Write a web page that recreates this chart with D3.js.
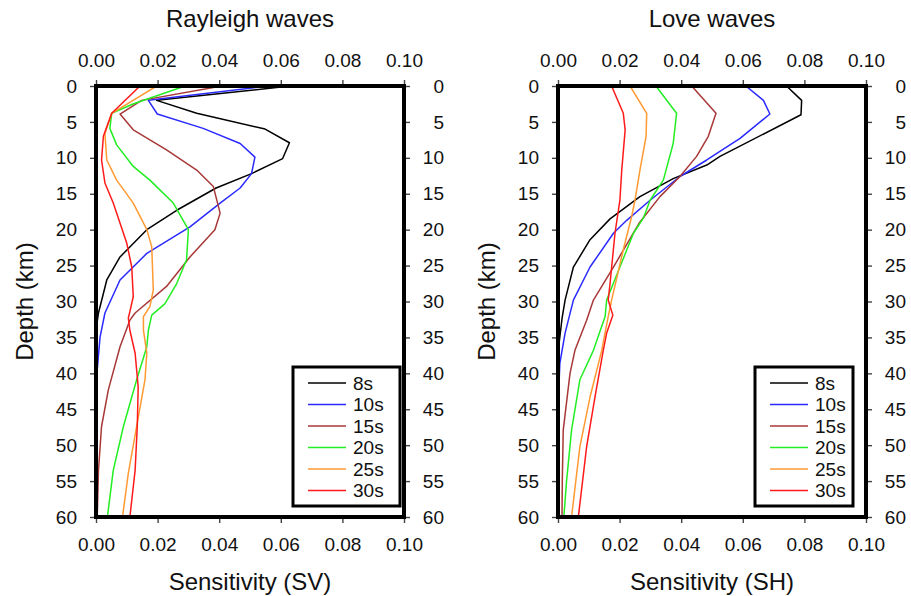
<!DOCTYPE html>
<html><head><meta charset="utf-8">
<script src="https://cdn.jsdelivr.net/npm/d3@7"></script>
<style>body{margin:0;background:#fff}svg{display:block;font-family:"Liberation Sans",Arial,sans-serif}</style>
</head><body><svg id="c" width="911" height="596"></svg>
<script>
// ---- data: [sensitivity, depth km] ----
const periods = ["8s","10s","15s","20s","25s","30s"];
const colors = ["#000000","#2a2aff","#a83838","#22ee22","#ff9a33","#ff1a1a"];
const xTicks = [0.00,0.02,0.04,0.06,0.08,0.10];
const yTicks = [0,5,10,15,20,25,30,35,40,45,50,55,60];

const rayleigh8  = [[0.063,0],[0.0197,2],[0.0327,3.8],[0.0549,6],[0.0628,7.9],[0.0606,10.1],[0.0505,12.2],[0.039,14.2],[0.0262,17.3],[0.0165,20],[0.0078,23.8],[0.0035,27],[0.0008,31.6],[0,34],[0,60]];
const rayleigh10 = [[0.0559,0],[0.017,2],[0.0199,3.9],[0.0348,5.9],[0.0468,8],[0.0516,9.9],[0.0505,12.2],[0.0468,14.2],[0.0403,16.3],[0.0305,19.6],[0.0165,23.3],[0.0078,27],[0.0029,31.6],[0.0013,35],[0.0003,40],[0,43],[0,60]];
const rayleigh15 = [[0.0408,0],[0.0148,2],[0.0078,3.9],[0.0121,6.1],[0.0229,8.9],[0.0327,11.7],[0.0381,14],[0.0403,17.7],[0.0386,20],[0.0305,23.8],[0.0229,27.9],[0.0127,31.6],[0.011,32.6],[0.0078,36.3],[0.004,42.3],[0.0018,47.4],[0.0008,53.5],[0.0004,60]];
const rayleigh20 = [[0.0289,0],[0.012,2.5],[0.0051,3.8],[0.0045,5.9],[0.0067,8.2],[0.0121,11.2],[0.0175,13.1],[0.0251,16.3],[0.03,20],[0.0294,24.2],[0.0262,27.5],[0.0224,30.3],[0.0181,31.9],[0.017,34],[0.0165,36.3],[0.0132,40.9],[0.0089,47.4],[0.0056,53.5],[0.0037,60]];
const rayleigh25 = [[0.0197,0],[0.0051,3.8],[0.0029,6.6],[0.0035,10.3],[0.0067,13.1],[0.0121,16.3],[0.0165,20],[0.0181,22.4],[0.0186,28.4],[0.0175,30.7],[0.0154,32.1],[0.0154,34],[0.0165,37.2],[0.0159,40.9],[0.0132,47.4],[0.0105,53.9],[0.0086,60]];
const rayleigh30 = [[0.0143,0],[0.0051,3.8],[0.0024,7],[0.0018,10.3],[0.0029,13.5],[0.0056,16.3],[0.01,21.9],[0.0116,25.2],[0.0121,29.3],[0.011,31.4],[0.0105,32.3],[0.011,34],[0.0127,37.2],[0.0137,41.9],[0.0134,47.4],[0.0127,53.5],[0.011,60]];

const love8  = [[0.0742,0],[0.0791,2],[0.0789,4],[0.0526,9.8],[0.0483,11],[0.0374,12.9],[0.0266,15.4],[0.0169,18.5],[0.0104,21.4],[0.005,25.2],[0.0023,29.8],[0.0013,32.4],[0.0003,36],[0,40],[0,60]];
const love10 = [[0.061,0],[0.0667,2],[0.0688,3.9],[0.0591,7.3],[0.0483,10.3],[0.0396,12.6],[0.0299,15.9],[0.0223,18.7],[0.018,20.5],[0.0104,25.2],[0.005,29.8],[0.0023,34.4],[0.0006,38.6],[0.0001,44],[0,60]];
const love15 = [[0.0434,0],[0.0513,3.8],[0.0488,7],[0.045,9.8],[0.0396,12.6],[0.0331,15.4],[0.0265,19],[0.018,25.2],[0.0115,29.8],[0.0093,32.6],[0.0055,36.8],[0.0039,40],[0.0017,47.9],[0.0014,54.9],[0.0013,60]];
const love20 = [[0.0318,0],[0.0385,3.8],[0.0374,8],[0.0342,13.1],[0.0299,15.9],[0.0277,18.4],[0.0245,20.5],[0.0201,25.2],[0.0158,29.8],[0.0153,32.1],[0.0115,36.8],[0.0071,40.9],[0.0044,47.9],[0.0028,54.9],[0.0019,60]];
const love25 = [[0.0234,0],[0.0288,3.8],[0.0286,7],[0.0266,11.7],[0.025,15.9],[0.0239,18.2],[0.0212,22.8],[0.0174,29.8],[0.0163,32.1],[0.0142,36.8],[0.0104,43.3],[0.0071,50.2],[0.0044,60]];
const love30 = [[0.0174,0],[0.0212,3.8],[0.0218,6.1],[0.0207,11.7],[0.0201,15.9],[0.0193,18.2],[0.0185,20.5],[0.0169,27.5],[0.0163,29.8],[0.0178,31.9],[0.0158,34.4],[0.0147,36.8],[0.012,43.3],[0.0093,50.2],[0.0066,60]];

const panels = [
  {title:"Rayleigh waves", xlabel:"Sensitivity (SV)", x0:96, series:[rayleigh8,rayleigh10,rayleigh15,rayleigh20,rayleigh25,rayleigh30], leg:{x:293,w:107}},
  {title:"Love waves", xlabel:"Sensitivity (SH)", x0:558, series:[love8,love10,love15,love20,love25,love30], leg:{x:755,w:98}}
];

const svg = d3.select("#c");
const W = 308, yTop = 86, yBot = 517;
const fmtX = d3.format(".2f");

panels.forEach(p => {
  const x = d3.scaleLinear().domain([0,0.1]).range([p.x0, p.x0+W]);
  const y = d3.scaleLinear().domain([0,60]).range([yTop, yBot]);
  const g = svg.append("g");

  const tickStyle = sel => {
    sel.select(".domain").remove();
    sel.selectAll(".tick line").attr("stroke","#444").attr("stroke-width",1.4);
    sel.selectAll(".tick text").attr("fill","#111").style("font-size","19px").style("font-family","'Liberation Sans',Arial,sans-serif");
  };
  g.append("g").attr("transform",`translate(0,${yTop})`)
    .call(d3.axisTop(x).tickValues(xTicks).tickFormat(fmtX).tickSize(6).tickPadding(13)).call(tickStyle);
  g.append("g").attr("transform",`translate(0,${yBot})`)
    .call(d3.axisBottom(x).tickValues(xTicks).tickFormat(fmtX).tickSize(6).tickPadding(15)).call(tickStyle);
  g.append("g").attr("transform",`translate(${p.x0},0)`)
    .call(d3.axisLeft(y).tickValues(yTicks).tickSize(6).tickPadding(13)).call(tickStyle);
  const ra = g.append("g").attr("transform",`translate(${p.x0+W},0)`)
    .call(d3.axisRight(y).tickValues(yTicks).tickSize(6).tickPadding(34)).call(tickStyle);
  ra.selectAll(".tick text").attr("text-anchor","end");

  const line = d3.line().x(d=>x(d[0])).y(d=>y(d[1]));
  const clipId = "clip"+p.x0;
  g.append("clipPath").attr("id",clipId).append("rect").attr("x",p.x0).attr("y",yTop).attr("width",W).attr("height",yBot-yTop);
  p.series.forEach((s,i) => {
    g.append("path").attr("d",line(s)).attr("fill","none").attr("stroke",colors[i])
      .attr("stroke-width",1.5).attr("stroke-linejoin","round").attr("clip-path",`url(#${clipId})`);
  });

  g.append("rect").attr("x",p.x0).attr("y",yTop).attr("width",W).attr("height",yBot-yTop)
    .attr("fill","none").attr("stroke","#000").attr("stroke-width",4);

  const cx = p.x0 + W/2;
  g.append("text").attr("x",cx).attr("y",27).attr("text-anchor","middle").style("font-size","24px").attr("fill","#111").text(p.title);
  g.append("text").attr("x",cx).attr("y",590).attr("text-anchor","middle").style("font-size","24px").attr("fill","#111").text(p.xlabel);
  g.append("text").attr("transform",`translate(${p.x0-63},${(yTop+yBot)/2}) rotate(-90)`).attr("text-anchor","middle")
    .style("font-size","24px").attr("fill","#111").text("Depth (km)");

  const L = g.append("g");
  L.append("rect").attr("x",p.leg.x).attr("y",367).attr("width",p.leg.w).attr("height",139)
    .attr("fill","#fff").attr("stroke","#000").attr("stroke-width",3);
  periods.forEach((name,i) => {
    const ly = 383 + i*21.5;
    L.append("line").attr("x1",p.leg.x+15).attr("x2",p.leg.x+53).attr("y1",ly).attr("y2",ly)
      .attr("stroke",colors[i]).attr("stroke-width",1.6);
    L.append("text").attr("x",p.leg.x+60).attr("y",ly).attr("dy","0.35em").style("font-size","19px").attr("fill","#111").text(name);
  });
});
</script></body></html>
